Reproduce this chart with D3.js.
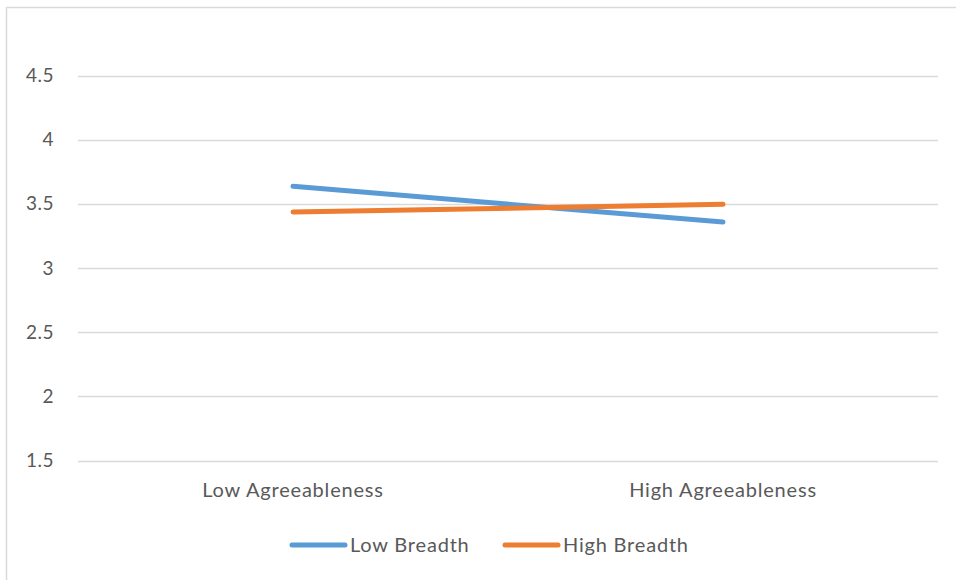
<!DOCTYPE html>
<html>
<head>
<meta charset="utf-8">
<script src="https://cdn.jsdelivr.net/npm/d3@7"></script>
<style>
  html, body { margin: 0; padding: 0; background: #fff; }
  text { font-family: Lato, "Open Sans", sans-serif; fill: #595959; }
</style>
</head>
<body>
<svg id="chart" width="956" height="580"></svg>
<script>
// Category labels along the x axis
const categories = ["Low Agreeableness", "High Agreeableness"];
// Series names and their mean values per category
const seriesNames = ["Low Breadth", "High Breadth"];
const lowBreadth = [3.637, 3.358];
const highBreadth = [3.436, 3.496];
// Y axis tick labels
const yTicks = [1.5, 2, 2.5, 3, 3.5, 4, 4.5];
const seriesColors = ["#5B9BD5", "#ED7D31"];

const series = [
  { name: seriesNames[0], values: lowBreadth, color: seriesColors[0] },
  { name: seriesNames[1], values: highBreadth, color: seriesColors[1] }
];

const svg = d3.select("#chart");
const W = 956, H = 580;
const labelFont = "Lato, 'Open Sans', sans-serif";

// Chart frame
svg.append("path")
  .attr("d", `M${W},7.5 H6.5 V${H}`)
  .attr("fill", "none")
  .attr("stroke", "#D9D9D9")
  .attr("stroke-width", 1.5);

const plot = { left: 78, right: 938, top: 75.5, bottom: 460.5 };

const x = d3.scaleBand()
  .domain(categories)
  .range([plot.left, plot.right])
  .paddingInner(0).paddingOuter(0);

const y = d3.scaleLinear()
  .domain([1.5, 4.5])
  .range([plot.bottom, plot.top]);

// Horizontal gridlines
svg.append("g")
  .selectAll("line")
  .data(yTicks)
  .join("line")
  .attr("x1", plot.left)
  .attr("x2", plot.right)
  .attr("y1", d => Math.round(y(d)) + 0.5)
  .attr("y2", d => Math.round(y(d)) + 0.5)
  .attr("stroke", "#D9D9D9")
  .attr("stroke-width", 1.5);

// Y axis labels
const yAxis = d3.axisLeft(y).tickValues(yTicks).tickSize(0).tickPadding(0)
  .tickFormat(d3.format("~g"));
const yg = svg.append("g")
  .attr("transform", `translate(54,0)`)
  .call(yAxis);
yg.select(".domain").remove();
yg.selectAll("text")
  .attr("font-size", 19)
  .attr("font-family", labelFont)
  .attr("letter-spacing", 0.5)
  .attr("fill", "#595959");

// X axis category labels
const xAxis = d3.axisBottom(x).tickSize(0).tickPadding(0);
const xg = svg.append("g")
  .attr("transform", `translate(0,${plot.bottom + 22})`)
  .call(xAxis);
xg.select(".domain").remove();
xg.selectAll("text")
  .attr("font-size", 20)
  .attr("font-family", labelFont)
  .attr("letter-spacing", 0.8)
  .attr("fill", "#595959");

// Series lines
const line = d3.line()
  .x((d, i) => x(categories[i]) + x.bandwidth() / 2)
  .y(d => y(d));

svg.append("g")
  .selectAll("path")
  .data(series)
  .join("path")
  .attr("d", d => line(d.values))
  .attr("fill", "none")
  .attr("stroke", d => d.color)
  .attr("stroke-width", 5)
  .attr("stroke-linecap", "round");

// Legend
const legendY = 545;
const legendItems = [
  { x: 292, s: series[0] },
  { x: 505, s: series[1] }
];
const lg = svg.append("g")
  .selectAll("g")
  .data(legendItems)
  .join("g")
  .attr("transform", d => `translate(${d.x},${legendY})`);
lg.append("line")
  .attr("x1", 0).attr("x2", 53)
  .attr("y1", 0).attr("y2", 0)
  .attr("stroke", d => d.s.color)
  .attr("stroke-width", 5)
  .attr("stroke-linecap", "round");
lg.append("text")
  .attr("x", 58)
  .attr("y", 0)
  .attr("dy", "0.35em")
  .attr("font-size", 20)
  .attr("letter-spacing", 0.8)
  .text(d => d.s.name);
</script>
</body>
</html>
